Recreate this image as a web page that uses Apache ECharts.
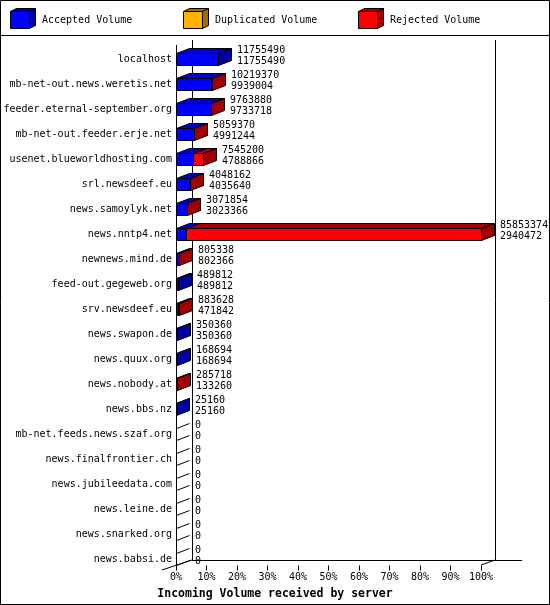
<!DOCTYPE html>
<html>
<head>
<meta charset="utf-8">
<script src="https://cdn.jsdelivr.net/npm/echarts/dist/echarts.min.js"></script>
<style>
  body { margin: 0; background: #fff; }
</style>
</head>
<body>
<div id="main" style="width: 550px;height:605px;"></div>

<script type="text/javascript">
  // data
  var servers = ['localhost', 'mb-net-out.news.weretis.net', 'feeder.eternal-september.org',
    'mb-net-out.feeder.erje.net', 'usenet.blueworldhosting.com', 'srl.newsdeef.eu',
    'news.samoylyk.net', 'news.nntp4.net', 'newnews.mind.de', 'feed-out.gegeweb.org',
    'srv.newsdeef.eu', 'news.swapon.de', 'news.quux.org', 'news.nobody.at', 'news.bbs.nz',
    'mb-net.feeds.news.szaf.org', 'news.finalfrontier.ch', 'news.jubileedata.com',
    'news.leine.de', 'news.snarked.org', 'news.babsi.de'];
  var offered = [11755490, 10219370, 9763880, 5059370, 7545200, 4048162, 3071854, 85853374,
    805338, 489812, 883628, 350360, 168694, 285718, 25160, 0, 0, 0, 0, 0, 0];
  var accepted = [11755490, 9939004, 9733718, 4991244, 4788866, 4035640, 3023366, 2940472,
    802366, 489812, 471842, 350360, 168694, 133260, 25160, 0, 0, 0, 0, 0, 0];
  var duplicated = [0, 0, 0, 0, 0, 0, 0, 0, 0, 0, 0, 0, 0, 0, 0, 0, 0, 0, 0, 0, 0];
  var seriesNames = ['Accepted Volume', 'Duplicated Volume', 'Rejected Volume'];
  var pctTicks = [0, 10, 20, 30, 40, 50, 60, 70, 80, 90, 100];

  var frontColor = ['#0000ff', '#ffb000', '#ff0000'];
  var topColor = ['#0000cc', '#c08400', '#aa0000'];
  var sideColor = ['#0000a0', '#a06e00', '#a00000'];
  var MONO = '"DejaVu Sans Mono", "Liberation Mono", monospace';
  var DX = 13, DY = -5;

  var maxOffered = Math.max.apply(null, offered);
  var rows = servers.map(function (s, i) {
    var rej = offered[i] - accepted[i] - duplicated[i];
    return [i,
      accepted[i] / maxOffered * 100,
      duplicated[i] / maxOffered * 100,
      rej / maxOffered * 100,
      offered[i], accepted[i]];
  });

  function line(x1, y1, x2, y2) {
    return { type: 'line', shape: { x1: x1, y1: y1, x2: x2, y2: y2 },
      style: { stroke: '#000', lineWidth: 1 } };
  }

  // back walls and floor of the 3d box
  function renderFrame(params, api) {
    var cs = params.coordSys;
    var x0 = Math.round(cs.x), x1 = Math.round(cs.x + cs.width);
    var yb = 565;
    var yt = Math.round(cs.y) - 2;
    return { type: 'group', children: [
      line(x0 + 16.5, yt - 5, x0 + 16.5, yb - 4.5),
      line(x1 + 14.5, yt - 5, x1 + 14.5, yb - 4.5),
      line(x0 + 16, yb - 4.5, x1 + 41, yb - 4.5),
      line(x0 - 14, yb + 5, x0 + 16, yb - 5),
      line(x1, yb, x1 + 14, yb - 5),
      line(x0 + 0.5, yt, x0 + 0.5, yb)
    ] };
  }

  function renderBar(params, api) {
    var i = api.value(0);
    var c = api.coord([0, i]);
    var x = Math.round(c[0]);
    var x0 = x;
    var top = Math.round(c[1]) - 6;
    var h = 12;
    var children = [];
    var acc = 0, last = -1;
    for (var k = 0; k < 3; k++) {
      var v = api.value(k + 1);
      if (v <= 0) continue;
      acc += v;
      var x1 = Math.round(api.coord([acc, i])[0]);
      children.push({ type: 'polygon',
        shape: { points: [[x + 0.5, top + 0.5], [x1 + 0.5, top + 0.5],
          [x1 + DX + 0.5, top + DY + 0.5], [x + DX + 0.5, top + DY + 0.5]] },
        style: { fill: topColor[k], stroke: '#000', lineWidth: 1 } });
      children.push({ type: 'rect',
        shape: { x: x + 0.5, y: top + 0.5, width: x1 - x, height: h },
        style: { fill: frontColor[k], stroke: '#000', lineWidth: 1 } });
      x = x1;
      last = k;
    }
    if (last < 0) {
      children.push(line(x0 + 0.5, top + 0.5, x0 + DX + 0.5, top + DY + 0.5));
      children.push(line(x0 + 0.5, top + h + 0.5, x0 + DX + 0.5, top + h + DY + 0.5));
    } else {
      children.push({ type: 'polygon',
        shape: { points: [[x + 0.5, top + 0.5], [x + DX + 0.5, top + DY + 0.5],
          [x + DX + 0.5, top + h + DY + 0.5], [x + 0.5, top + h + 0.5]] },
        style: { fill: sideColor[last], stroke: '#000', lineWidth: 1 } });
    }
    var tx = x + DX + 6;
    children.push({ type: 'text', style: { text: String(api.value(4)), x: tx, y: top - 3,
      fontFamily: MONO, fontSize: 10, fill: '#000', verticalAlign: 'middle' } });
    children.push({ type: 'text', style: { text: String(api.value(5)), x: tx, y: top + 8.5,
      fontFamily: MONO, fontSize: 10, fill: '#000', verticalAlign: 'middle' } });
    return { type: 'group', children: children };
  }

  var legendX = [10, 183, 358];
  var graphics = [
    { type: 'rect', shape: { x: 0.5, y: 0.5, width: 549, height: 604 },
      style: { fill: 'none', stroke: '#000', lineWidth: 1 } },
    { type: 'line', shape: { x1: 0, y1: 35.5, x2: 550, y2: 35.5 },
      style: { stroke: '#000', lineWidth: 1 } }
  ];
  seriesNames.forEach(function (n, k) {
    var lx = legendX[k] + 0.5;
    graphics.push({ type: 'polygon',
      shape: { points: [[lx, 11.5], [lx + 6, 8.5], [lx + 25, 8.5], [lx + 19, 11.5]] },
      style: { fill: sideColor[k], stroke: '#000', lineWidth: 1 } });
    graphics.push({ type: 'polygon',
      shape: { points: [[lx + 19, 11.5], [lx + 25, 8.5], [lx + 25, 25.5], [lx + 19, 28.5]] },
      style: { fill: sideColor[k], stroke: '#000', lineWidth: 1 } });
    graphics.push({ type: 'rect', shape: { x: lx, y: 11.5, width: 19, height: 17 },
      style: { fill: frontColor[k], stroke: '#000', lineWidth: 1 } });
    graphics.push({ type: 'text', style: { text: n, x: legendX[k] + 32, y: 20,
      fontFamily: MONO, fontSize: 10, fill: '#000', verticalAlign: 'middle' } });
  });

  var option = {
    animation: false,
    backgroundColor: '#fff',
    title: {
      text: 'Incoming Volume received by server',
      left: 'center',
      top: 583,
      textStyle: { fontFamily: MONO, fontSize: 11.5, fontWeight: 'bold', color: '#000' }
    },
    grid: { left: 176, right: 69, top: 46.5, bottom: 33.5 },
    xAxis: {
      type: 'value',
      min: 0,
      max: 100,
      interval: 10,
      offset: -6,
      axisLine: { show: false },
      axisTick: { show: true, length: 5, lineStyle: { color: '#000' } },
      splitLine: { show: false },
      axisLabel: {
        margin: 7,
        fontFamily: MONO,
        fontSize: 10,
        color: '#000',
        formatter: function (v) { return pctTicks.indexOf(v) >= 0 ? v + '%' : ''; }
      }
    },
    yAxis: {
      type: 'category',
      inverse: true,
      data: servers,
      axisLine: { show: false },
      axisTick: { show: false },
      axisLabel: { margin: 4, fontFamily: MONO, fontSize: 10, color: '#000' }
    },
    graphic: graphics,
    series: [
      { type: 'custom', name: 'frame', renderItem: renderFrame, data: [[0, 0]], z: 1, silent: true },
      { type: 'custom', name: 'volume', renderItem: renderBar, data: rows, z: 2,
        encode: { x: [1, 2, 3], y: 0 } }
    ]
  };
  var myChart = echarts.init(document.getElementById('main'));
  myChart.setOption(option);
</script>
</body>
</html>
